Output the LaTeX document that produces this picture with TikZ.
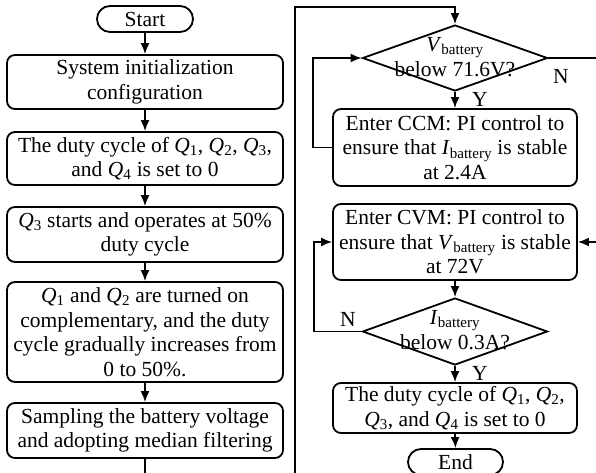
\documentclass[tikz,border=0pt]{standalone}
\usepackage{fontspec}
\setmainfont{Liberation Serif}
\usetikzlibrary{shapes.geometric,arrows.meta}
\newcommand\Qs[1]{\textit{Q}\textsubscript{#1}}
\newcommand\bat[1]{\textit{#1}\textsubscript{battery}}
\begin{document}
\begin{tikzpicture}[x=1pt,y=-1pt,
  font=\fontsize{21.5}{24.5}\selectfont,
  line width=1.8pt,
  lbox/.style={draw, rounded corners=8pt, minimum width=276pt, align=center, inner sep=2pt},
  rbox/.style={draw, rounded corners=8pt, minimum width=244pt, align=center, inner sep=2pt},
  term/.style={draw, rounded corners=13pt, minimum height=26pt, inner sep=0pt},
  dia/.style={draw, diamond, minimum width=185pt, minimum height=66pt, inner sep=0pt},
  lbl/.style={align=center, inner sep=0pt},
  arr/.style={-{Latex[length=11pt,width=9pt]}}]
\useasboundingbox (0,0) rectangle (596,473);
\clip (0,0) rectangle (596,473);
% left column
\node[term, minimum width=96pt] (start) at (145,19) {Start};
\node[lbox, minimum height=54pt] (b1) at (145,82) {System initialization\\configuration};
\node[lbox, minimum height=53pt] (b2) at (145,158.5) {The duty cycle of \Qs{1}, \Qs{2}, \Qs{3},\\and \Qs{4} is set to 0};
\node[lbox, minimum height=55pt] (b3) at (145,234.5) {\Qs{3} starts and operates at 50\%\\duty cycle};
\node[lbox, minimum height=100pt] (b4) at (145,332) {\Qs{1} and \Qs{2} are turned on\\complementary, and the duty\\cycle gradually increases from\\0 to 50\%.};
\node[lbox, minimum height=55pt] (b5) at (145,430.5) {Sampling the battery voltage\\and adopting median filtering};
\draw[arr] (start) -- (b1);
\draw[arr] (b1) -- (b2);
\draw[arr] (b2) -- (b3);
\draw[arr] (b3) -- (b4);
\draw[arr] (b4) -- (b5);
\coordinate (bl) at (145,480);
\coordinate (br) at (295,480);
\coordinate (tp) at (455,7);
\draw (b5) -- (bl);
% right column
\node[dia] (d1) at (455,58) {};
\node[lbl] (t1) at (455,57) {\bat{V}\\below 71.6V?};
\node[rbox, minimum height=77pt] (ccm) at (455,147.5) {Enter CCM: PI control to\\ensure that \bat{I} is stable\\at 2.4A};
\node[rbox, minimum height=76pt] (cvm) at (455,242) {Enter CVM: PI control to\\ensure that \bat{V} is stable\\at 72V};
\node[dia, minimum height=67pt] (d2) at (455,331.5) {};
\node[lbl] (t2) at (455,330) {\bat{I}\\below 0.3A?};
\node[rbox, minimum height=50pt] (fin) at (455,408) {The duty cycle of \Qs{1}, \Qs{2},\\\Qs{3}, and \Qs{4} is set to 0};
\node[term, minimum width=95pt] (end) at (455.5,462) {End};
\coordinate (nr1) at (600,58);
\coordinate (nr2) at (600,242);
\draw[arr] (br) |- (tp) -- (d1.north);
\draw (d1.east) -- (nr1);
\node (n1) at (561,76) {N};
\draw[arr] (d1.south) -- (ccm.north);
\node (y1) at (480,99) {Y};
\draw[arr] (ccm.west) -- ++(-19,0) |- (d1.west);
\draw[arr] (nr2) -- (cvm.east);
\draw[arr] (cvm.south) -- (d2.north);
\draw[arr] (d2.west) -- ++(-48,0) |- (cvm.west);
\node (n2) at (348,319) {N};
\draw[arr] (d2.south) -- (fin.north);
\node (y2) at (480,373) {Y};
\draw[arr] (fin.south) -- (end.north);
\end{tikzpicture}
\end{document}
